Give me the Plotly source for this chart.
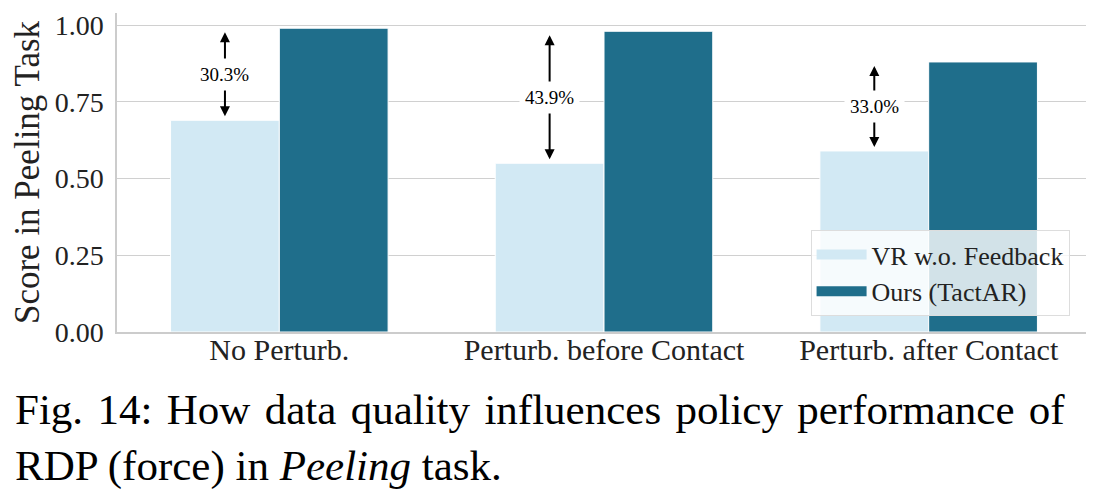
import plotly.graph_objects as go

categories = ["No Perturb.", "Perturb. before Contact", "Perturb. after Contact"]
vr_scores = [0.69, 0.55, 0.59]
ours_scores = [0.99, 0.98, 0.88]
gap_labels = ["30.3%", "43.9%", "33.0%"]
series_names = ["VR w.o. Feedback", "Ours (TactAR)"]
y_ticks = [0.0, 0.25, 0.5, 0.75, 1.0]
y_tick_labels = ["0.00", "0.25", "0.50", "0.75", "1.00"]

LIGHT = "#d2e9f4"
DARK = "#1f6e8b"
FONT = "Liberation Serif"
TXT = "#222222"

fig = go.Figure()
fig.add_trace(go.Bar(x=categories, y=vr_scores, name=series_names[0],
                     marker=dict(color=LIGHT, line=dict(color="white", width=1)),
                     offsetgroup="a", showlegend=False))
fig.add_trace(go.Bar(x=categories, y=ours_scores, name=series_names[1],
                     marker=dict(color=DARK, line=dict(color="white", width=1)),
                     offsetgroup="b", showlegend=False))
# legend entries (wide swatches like the reference)
for nm, col in zip(series_names, [LIGHT, DARK]):
    fig.add_trace(go.Scatter(x=[None], y=[None], mode="lines", name=nm,
                             line=dict(color=col, width=14), showlegend=True))

annotations = []
for i, cat in enumerate(categories):
    lo, hi = vr_scores[i], ours_scores[i]
    mid = (lo + hi) / 2
    for tip in (hi, lo):
        annotations.append(dict(
            x=i - 0.1675, y=tip, ax=i - 0.1675, ay=mid, xref="x", yref="y",
            axref="x", ayref="y", text="", showarrow=True, arrowhead=2,
            arrowsize=1, arrowwidth=2, arrowcolor="black", standoff=4))
    annotations.append(dict(
        x=i - 0.1675, y=mid, xref="x", yref="y", text=gap_labels[i],
        showarrow=False, bgcolor="white", borderpad=5,
        font=dict(family=FONT, size=19, color="black")))

gap = " \u200a"
line1 = gap.join("Fig. 14: How data quality influences policy performance of".split(" "))
annotations.append(dict(
    x=-0.107, y=-0.333, xref="paper", yref="paper", xanchor="left", yanchor="middle",
    align="left", showarrow=False,
    text=line1 + "<br>RDP (force) in <i>Peeling</i> task.",
    font=dict(family=FONT, size=43, color="black")))

fig.update_layout(
    width=1086, height=484,
    margin=dict(l=109, r=3, t=5, b=160),
    paper_bgcolor="white", plot_bgcolor="white",
    barmode="group", bargap=0.33, bargroupgap=0,
    font=dict(family=FONT, color=TXT),
    showlegend=True,
    legend=dict(x=0.978, y=0.05, xanchor="right", yanchor="bottom",
                bgcolor="rgba(255,255,255,0.8)", bordercolor="#dddddd", borderwidth=1,
                itemwidth=50,
                font=dict(family=FONT, size=26, color=TXT)),
    annotations=annotations,
)
fig.update_xaxes(showline=True, linecolor="#cccccc", linewidth=1.5, showgrid=False,
                 ticks="", tickfont=dict(family=FONT, size=30, color=TXT),
                 range=[-0.5, 2.5], ticklabelstandoff=-10)
fig.update_yaxes(range=[0, 1.0395], tickvals=y_ticks, ticktext=y_tick_labels,
                 showline=True, linecolor="#cccccc", linewidth=1.5,
                 showgrid=True, gridcolor="#d0d0d0", gridwidth=1, zeroline=False,
                 ticks="", tickfont=dict(family=FONT, size=28, color=TXT),
                 ticklabelstandoff=6,
                 title=dict(text="Score in Peeling Task", font=dict(family=FONT, size=35, color=TXT),
                            standoff=4))

fig.write_html("out.html")
